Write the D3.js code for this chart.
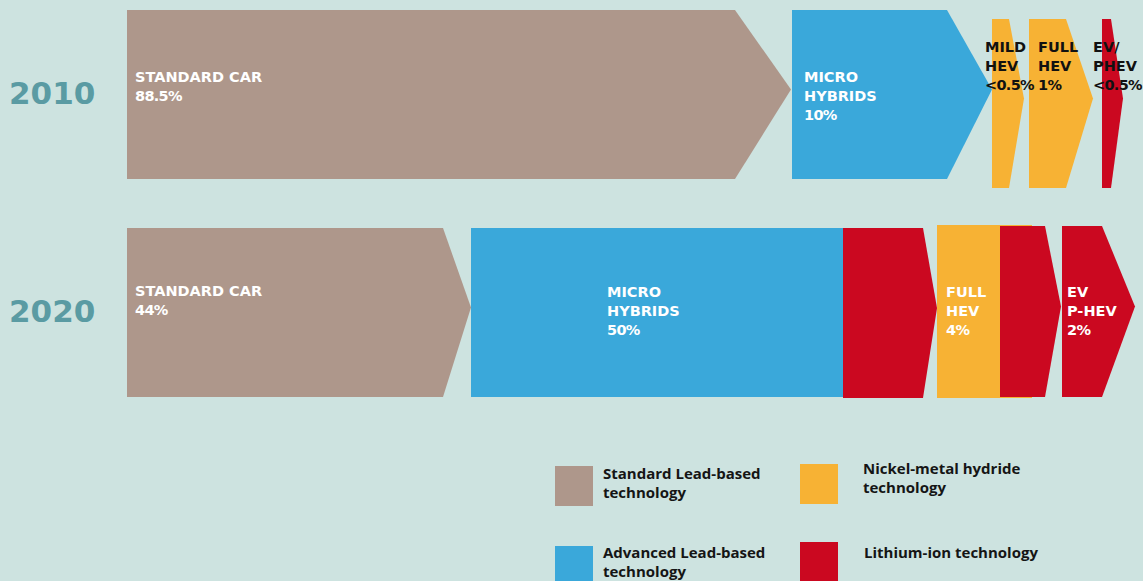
<!DOCTYPE html>
<html>
<head>
<meta charset="utf-8">
<script src="https://cdn.jsdelivr.net/npm/d3@7"></script>
<style>
  html, body { margin: 0; padding: 0; background: #cde3e0; }
  svg { display: block; }
  text { font-family: "Open Sans", "Noto Sans", sans-serif; font-weight: 700; }
  .seg, .year { font-family: "DejaVu Sans", sans-serif; }
</style>
</head>
<body>
<svg id="chart" width="1143" height="581"></svg>
<script>
// ---------- DATA ----------
const years = ["2010", "2020"];

// 2010 segments
const names2010  = [["STANDARD CAR"], ["MICRO", "HYBRIDS"], ["MILD", "HEV"], ["FULL", "HEV"], ["EV/", "PHEV"]];
const shares2010 = ["88.5%", "10%", "<0.5%", "1%", "<0.5%"];
const tech2010   = ["standard", "advanced", "nimh", "nimh", "liion"];

// 2020 segments
const names2020  = [["STANDARD CAR"], ["MICRO", "HYBRIDS"], [], ["FULL", "HEV"], [], ["EV", "P-HEV"]];
const shares2020 = ["44%", "50%", "", "4%", "", "2%"];
const tech2020   = ["standard", "advanced", "liion", "nimh", "liion", "liion"];

// legend
const techKeys   = ["standard", "nimh", "advanced", "liion"];
const techLabels = [["Standard Lead-based", "technology"], ["Nickel-metal hydride", "technology"],
                    ["Advanced Lead-based", "technology"], ["Lithium-ion technology"]];

// ---------- LAYOUT (display extents of each arrow, in layout units) ----------
const extent2010 = [[0, 608, 664], [665, 820, 865], [865, 882, 897], [902, 939, 966], [975, 984, 996]];
const extent2020 = [[0, 316, 344], [344, 716, 716], [716, 796, 810], [810, 905, 905], [873, 918, 934], [935, 975, 1008]];
const inset2010  = [[0, 0], [0, 0], [9, 9], [9, 9], [9, 9]];
const inset2020  = [[0, 0], [0, 0], [0, 1], [-3, 1], [-2, 0], [-2, 0]];
const labelDx2010 = [8, 12, -7, 9, -9];
const labelDx2020 = [8, 136, 0, 9, 5, 5];
const labelTop2010 = [72, 72, 42, 42, 42];
const labelTop2020 = [68, 69, 69, 69, 69, 69];
const labelColor2010 = ["#fff", "#fff", "#111", "#111", "#111"];

const colors = { standard: "#ae978b", advanced: "#3aa8da", nimh: "#f7b234", liion: "#cb0820" };

// ---------- SCALES ----------
const svg = d3.select("#chart");
const W = 1143, H = 581;
svg.append("rect").attr("width", W).attr("height", H).attr("fill", "#cde3e0");

const x = d3.scaleLinear().domain([0, 1016]).range([127, 1143]);
const y = d3.scaleBand().domain(years).range([10, 397]).paddingInner(49 / 218).paddingOuter(0);
const color = d3.scaleOrdinal().domain(Object.keys(colors)).range(Object.values(colors));

function build(year, names, shares, tech, extent, inset, ldx, ltop, lcol) {
  return names.map((n, i) => ({
    year, lines: n.map(l => ({ l, share: false })).concat(shares[i] ? [{ l: shares[i], share: true }] : []),
    tech: tech[i],
    x0: extent[i][0], x1: extent[i][1], tip: extent[i][2],
    it: inset[i][0], ib: inset[i][1], ldx: ldx[i], ltop: ltop[i], lcol: lcol ? lcol[i] : "#fff"
  }));
}
const rows = [
  build("2010", names2010, shares2010, tech2010, extent2010, inset2010, labelDx2010, labelTop2010, labelColor2010),
  build("2020", names2020, shares2020, tech2020, extent2020, inset2020, labelDx2020, labelTop2020, null)
];
const segs = rows.flat();

function arrowPath(d) {
  const top = y(d.year) + d.it;
  const bot = y(d.year) + y.bandwidth() + d.ib;
  const mid = y(d.year) + y.bandwidth() / 2 - 5 + (d.it + d.ib) / 2;
  const a = x(d.x0), b = x(d.x1), t = x(d.tip);
  if (t <= b + 0.5) return `M${a},${top}L${b},${top}L${b},${bot}L${a},${bot}Z`;
  return `M${a},${top}L${b},${top}L${t},${mid}L${b},${bot}L${a},${bot}Z`;
}

svg.append("g").selectAll("path").data(segs).join("path")
  .attr("d", arrowPath)
  .attr("fill", d => color(d.tech));

// segment labels
const lab = svg.append("g").selectAll("text").data(segs.filter(d => d.lines.length)).join("text")
  .attr("class", "seg")
  .attr("x", d => x(d.x0) + d.ldx)
  .attr("y", d => y(d.year) + d.ltop)
  .attr("fill", d => d.lcol)
  .attr("font-size", 14.5);
lab.selectAll("tspan").data(d => d.lines.map(o => ({ ...o, x: x(d.x0) + d.ldx }))).join("tspan")
  .attr("x", t => t.x)
  .attr("dy", (t, i) => i === 0 ? 0 : 19)
  .attr("letter-spacing", t => t.share ? -0.7 : 0)
  .text(t => t.l);

// year labels
svg.append("g").selectAll("text").data(years).join("text")
  .attr("class", "year")
  .attr("x", 9)
  .attr("y", d => y(d) + y.bandwidth() / 2 + 9)
  .attr("font-size", 31)
  .attr("fill", "#5a9ba3")
  .text(d => d);

// legend
const legPos = [[555, 466, 603, 479], [800, 464, 863, 474], [555, 546, 603, 558], [800, 542, 864, 558]];
const leg = svg.append("g").selectAll("g").data(techKeys).join("g");
leg.append("rect")
  .attr("x", (d, i) => legPos[i][0]).attr("y", (d, i) => legPos[i][1])
  .attr("width", 38).attr("height", 40)
  .attr("fill", d => color(d));
const lt = leg.append("text")
  .attr("x", (d, i) => legPos[i][2]).attr("y", (d, i) => legPos[i][3])
  .attr("font-size", 15).attr("fill", "#151515");
lt.selectAll("tspan").data((d, i) => techLabels[i].map(l => ({ l, x: legPos[i][2] }))).join("tspan")
  .attr("x", t => t.x).attr("dy", (t, i) => i === 0 ? 0 : 19).text(t => t.l);
</script>
</body>
</html>
